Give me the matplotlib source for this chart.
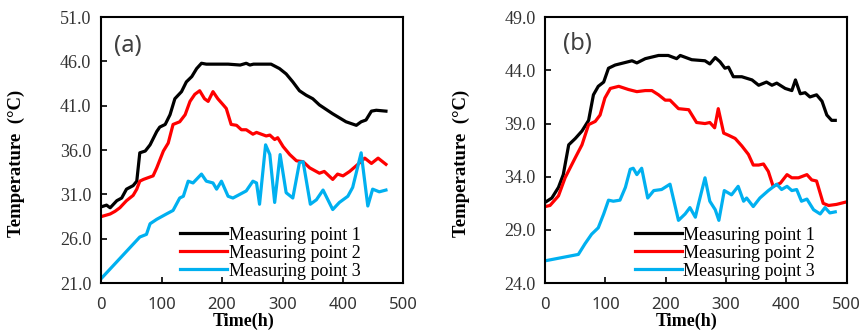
import numpy as np
import matplotlib
matplotlib.use("Agg")
import matplotlib.pyplot as plt

# panel (a)
t_a1 = [0, 9, 15, 26, 34, 42, 53, 59, 64, 73, 81, 92, 97, 106, 114, 122, 133, 141, 150, 158, 166, 174,
        190, 210, 230, 240, 246, 252, 273, 281, 295, 306, 317, 328, 339, 350, 361, 383, 405, 422, 430,
        438, 447, 455, 471]
T_a1 = [29.6, 29.8, 29.5, 30.3, 30.6, 31.6, 32.0, 32.5, 35.7, 35.9, 36.6, 38.1, 38.6, 38.9, 40.0, 41.8,
        42.6, 43.7, 44.3, 45.2, 45.8, 45.7, 45.7, 45.7, 45.6, 45.8, 45.6, 45.7, 45.7, 45.7, 45.2, 44.6,
        43.7, 42.7, 42.2, 41.8, 41.1, 40.1, 39.2, 38.8, 39.2, 39.4, 40.4, 40.5, 40.4]

t_a2 = [0, 15, 23, 31, 42, 53, 59, 64, 70, 86, 92, 103, 111, 119, 130, 139, 147, 155, 163, 171, 177,
        185, 193, 202, 207, 215, 224, 232, 240, 251, 257, 273, 279, 287, 292, 301, 312, 323, 334, 345,
        361, 369, 383, 391, 400, 411, 428, 436, 447, 458, 471]
T_a2 = [28.5, 28.8, 29.1, 29.5, 30.3, 30.9, 31.6, 32.5, 32.7, 33.1, 34.0, 35.9, 36.8, 38.9, 39.2, 40.0,
        41.5, 42.3, 42.7, 41.8, 41.5, 42.6, 41.8, 41.1, 40.7, 38.9, 38.8, 38.3, 38.3, 37.8, 38.0, 37.6,
        37.7, 37.2, 37.4, 36.4, 35.5, 34.8, 34.7, 34.0, 33.4, 33.6, 32.7, 33.3, 33.1, 33.6, 34.6, 35.1,
        34.5, 35.1, 34.4]

t_a3 = [0, 64, 75, 81, 92, 108, 119, 130, 136, 144, 152, 166, 174, 185, 191, 199, 210, 218, 229, 240,
        251, 257, 262, 272, 279, 287, 296, 306, 317, 328, 334, 346, 356, 367, 383, 394, 408, 416, 430,
        441, 449, 460, 471]
T_a3 = [21.5, 26.2, 26.5, 27.7, 28.2, 28.8, 29.2, 30.6, 30.8, 32.5, 32.3, 33.3, 32.5, 32.3, 31.6, 32.5,
        30.8, 30.6, 31.0, 31.4, 32.5, 32.3, 29.9, 36.6, 35.5, 30.1, 35.5, 31.2, 30.6, 34.6, 34.7, 29.9,
        30.4, 31.5, 29.3, 30.1, 30.8, 31.8, 35.7, 29.7, 31.6, 31.3, 31.5]

# panel (b)
t_b1 = [0, 11, 22, 30, 39, 50, 61, 72, 80, 88, 97, 105, 116, 130, 144, 152, 166, 188, 204, 218, 224,
        243, 265, 273, 282, 290, 298, 304, 312, 326, 343, 354, 367, 376, 384, 398, 409, 415, 423, 431,
        439, 450, 459, 467, 475, 481]
T_b1 = [31.6, 32.0, 33.0, 34.2, 37.0, 37.6, 38.3, 39.3, 41.7, 42.5, 42.9, 44.2, 44.5, 44.7, 44.9, 44.7,
        45.1, 45.4, 45.4, 45.1, 45.4, 45.0, 44.9, 44.6, 45.2, 44.8, 44.2, 44.3, 43.4, 43.4, 43.1, 42.6,
        42.9, 42.6, 42.8, 42.3, 42.1, 43.1, 41.8, 41.9, 41.5, 41.7, 41.1, 39.8, 39.3, 39.3]

t_b2 = [0, 8, 22, 33, 50, 61, 72, 83, 91, 99, 108, 122, 138, 152, 166, 177, 188, 199, 207, 221, 238,
        251, 265, 273, 281, 287, 296, 304, 315, 326, 337, 345, 354, 362, 370, 378, 390, 401, 409, 420,
        434, 442, 450, 461, 470, 483, 497]
T_b2 = [31.2, 31.3, 32.2, 33.9, 35.8, 37.0, 38.9, 39.2, 39.8, 41.4, 42.3, 42.5, 42.2, 42.0, 42.1, 42.1,
        41.7, 41.2, 41.2, 40.4, 40.3, 39.1, 39.0, 39.1, 38.6, 40.4, 38.1, 37.9, 37.6, 36.9, 36.1, 35.1,
        35.1, 35.2, 34.5, 33.1, 33.4, 34.2, 33.9, 33.9, 34.2, 33.7, 33.6, 31.5, 31.3, 31.4, 31.6]

t_b3 = [0, 55, 66, 77, 88, 97, 105, 113, 124, 133, 141, 146, 152, 160, 170, 180, 193, 207, 221, 232,
        240, 249, 254, 265, 273, 282, 288, 297, 309, 320, 329, 334, 345, 356, 370, 384, 392, 401, 409,
        417, 425, 434, 445, 456, 464, 472, 481]
T_b3 = [26.1, 26.7, 27.7, 28.6, 29.2, 30.5, 31.8, 31.7, 31.8, 33.0, 34.7, 34.8, 34.2, 34.8, 32.0, 32.7,
        32.8, 33.3, 29.9, 30.5, 31.1, 30.2, 31.4, 33.9, 31.7, 30.9, 29.9, 32.7, 32.3, 33.1, 31.7, 32.0,
        31.2, 32.0, 32.7, 33.3, 32.8, 33.1, 32.7, 32.8, 31.7, 31.9, 30.9, 30.5, 31.1, 30.6, 30.7]

labels = ["Measuring point 1", "Measuring point 2", "Measuring point 3"]
colors = ["#000000", "#ff0000", "#00b0f0"]

ylim_a, yticks_a = (21, 51), np.arange(21, 52, 5)
ylim_b, yticks_b = (24, 49), np.arange(24, 50, 5)
xticks = [0, 100, 200, 300, 400, 500]

serif = ["Liberation Serif", "DejaVu Serif"]
sans = ["Noto Sans", "DejaVu Sans"]

fig = plt.figure(figsize=(8.64, 3.3), dpi=100)
ax_a = fig.add_axes([0.117, 0.142, 0.350, 0.806])
ax_b = fig.add_axes([0.631, 0.142, 0.349, 0.806])


def draw(ax, series, ylim, yticks, tag, tag_xy, leg_x):
    for (t, T), lab, c in zip(series, labels, colors):
        ax.plot(t, T, color=c, lw=2.3, label=lab, solid_joinstyle="round")
    ax.set_xlim(0, 500)
    ax.set_ylim(*ylim)
    ax.set_xticks(xticks)
    ax.set_yticks(yticks)
    ax.set_yticklabels(["%.1f" % v for v in yticks], family=serif, fontsize=13, color="#333333")
    ax.set_xticklabels([str(v) for v in xticks], family=sans, fontsize=12, color="#333333")
    ax.tick_params(direction="in", length=4, width=1.2, top=False, right=False)
    ax.tick_params(axis="y", pad=7)
    ax.tick_params(axis="x", pad=10)
    for s in ax.spines.values():
        s.set_linewidth(1.5)
    ax.set_xlabel("Time(h)", family=serif, fontsize=13, fontweight="bold")
    ax.xaxis.set_label_coords(0.47, -0.11)
    ax.set_ylabel("Temperature  (\u00b0C)", family=serif, fontsize=13.5, fontweight="bold")
    ax.yaxis.set_label_coords(-0.25, 0.45)
    ax.text(tag_xy[0], tag_xy[1], tag, transform=ax.transAxes, ha="center", va="center",
            family=sans, fontsize=17, color="#404040")
    ax.legend(loc="lower left", bbox_to_anchor=(leg_x, 0.0), frameon=False,
              prop={"family": serif, "size": 13}, handlelength=2.6, handletextpad=0.1,
              labelspacing=0.05, borderpad=0.2, borderaxespad=0)


draw(ax_a, [(t_a1, T_a1), (t_a2, T_a2), (t_a3, T_a3)], ylim_a, yticks_a, "(a)", (0.09, 0.89), 0.25)
draw(ax_b, [(t_b1, T_b1), (t_b2, T_b2), (t_b3, T_b3)], ylim_b, yticks_b, "(b)", (0.106, 0.9), 0.285)

fig.savefig("out.png", dpi=100)
